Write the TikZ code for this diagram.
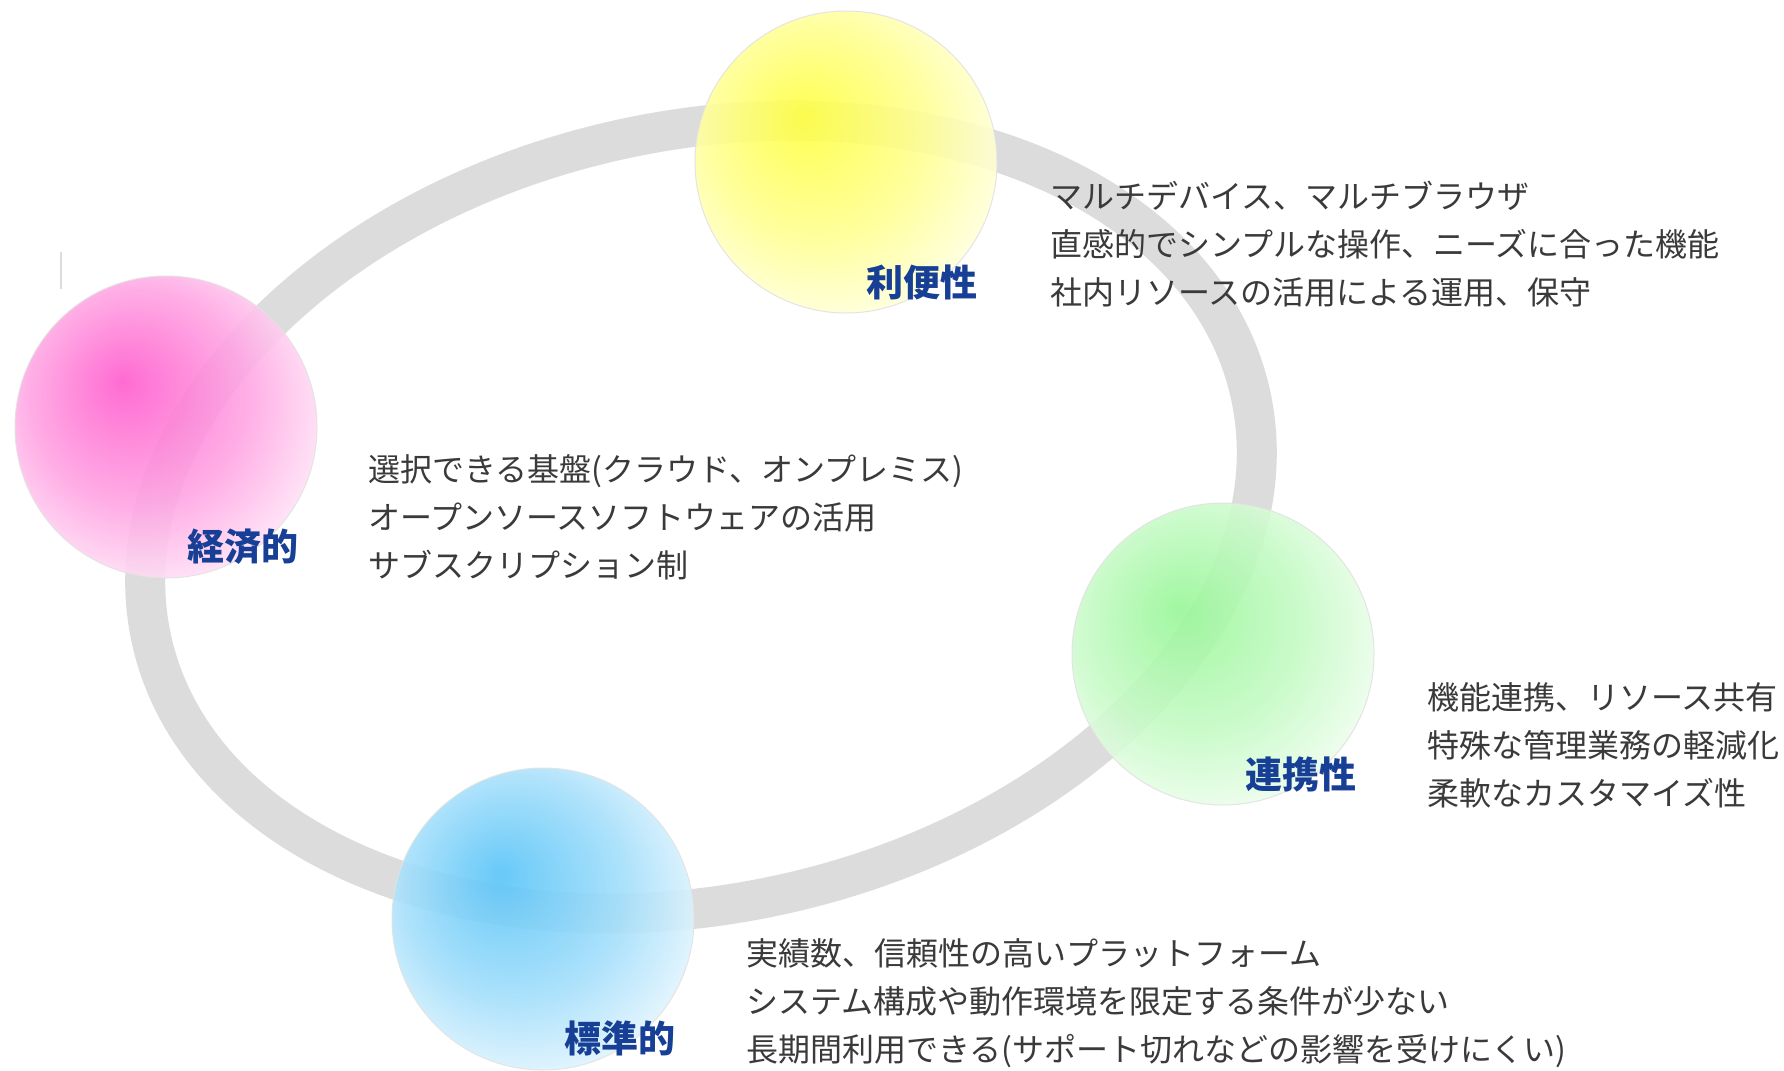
\documentclass[tikz,border=0pt]{standalone}
\usepackage{fontspec}
\setmainfont{Noto Sans CJK JP}
\definecolor{ringgray}{HTML}{DCDCDC}
\definecolor{ballborder}{HTML}{E2E2E2}
\definecolor{lblblue}{HTML}{173F96}
\definecolor{bodygray}{HTML}{3A3A3A}
\definecolor{pinkc}{HTML}{FF5CCD}
\definecolor{yellowc}{HTML}{FFFF40}
\definecolor{greenc}{HTML}{98F798}
\definecolor{bluec}{HTML}{58C4F8}
\pgfdeclareradialshading{ballpink}{\pgfpoint{-7.3bp}{7.6bp}}{color(0bp)=(pinkc); color(18bp)=(pinkc!55!white); color(35bp)=(white); color(50bp)=(white)}
\pgfdeclareradialshading{ballyellow}{\pgfpoint{-7.3bp}{7.6bp}}{color(0bp)=(yellowc); color(18bp)=(yellowc!55!white); color(35bp)=(white); color(50bp)=(white)}
\pgfdeclareradialshading{ballgreen}{\pgfpoint{-7.3bp}{7.6bp}}{color(0bp)=(greenc); color(18bp)=(greenc!55!white); color(35bp)=(white); color(50bp)=(white)}
\pgfdeclareradialshading{ballblue}{\pgfpoint{-7.3bp}{7.6bp}}{color(0bp)=(bluec); color(18bp)=(bluec!55!white); color(35bp)=(white); color(50bp)=(white)}
\begin{document}
\begin{tikzpicture}[x=1pt,y=-1pt,
  ring/.style={draw=ringgray, line width=40pt},
  ball/.style={circle, minimum size=302pt, inner sep=0pt, draw=ballborder, line width=1pt, opacity=0.9, shade},
  lbl/.style={font=\fontsize{37}{40}\selectfont\bfseries, text=lblblue, anchor=base east, inner sep=0pt},
  body/.style={font=\fontsize{32}{40}\selectfont, text=bodygray, anchor=base west, inner sep=0pt}]
\useasboundingbox (0,0) rectangle (1784,1070);
\fill[white] (0,0) rectangle (1784,1070);
% ring
\coordinate (rc) at (701,517);
\draw[ring, rotate around={12.7:(rc)}] (rc) ellipse [x radius=563pt, y radius=386pt];
% small mark
\coordinate (m1) at (61,252);
\coordinate (m2) at (61,289);
\draw[ringgray, line width=1.5pt] (m1) -- (m2);
% balls
\node[ball, shading=ballyellow] (yellow) at (846,162) {};
\node[ball, shading=ballpink] (pink) at (166,427) {};
\node[ball, shading=ballgreen] (green) at (1223,654) {};
\node[ball, shading=ballblue] (blue) at (543,919) {};
% labels
\node[lbl] (l1) at (978,296) {利便性};
\node[lbl] (l2) at (299,560) {経済的};
\node[lbl] (l3) at (1357,788) {連携性};
\node[lbl] (l4) at (676,1052) {標準的};
% texts
\node[body] (t11) at (1050,208) {マルチデバイス、マルチブラウザ};
\node[body] (t12) at (1050,256) {直感的でシンプルな操作、ニーズに合った機能};
\node[body] (t13) at (1050,304) {社内リソースの活用による運用、保守};
\node[body] (t21) at (368,481) {選択できる基盤(クラウド、オンプレミス)};
\node[body] (t22) at (368,529) {オープンソースソフトウェアの活用};
\node[body] (t23) at (368,577) {サブスクリプション制};
\node[body] (t31) at (1427,709) {機能連携、リソース共有};
\node[body] (t32) at (1427,757) {特殊な管理業務の軽減化};
\node[body] (t33) at (1427,805) {柔軟なカスタマイズ性};
\node[body] (t41) at (746,965) {実績数、信頼性の高いプラットフォーム};
\node[body] (t42) at (746,1013) {システム構成や動作環境を限定する条件が少ない};
\node[body] (t43) at (746,1061) {長期間利用できる(サポート切れなどの影響を受けにくい)};
\end{tikzpicture}
\end{document}
